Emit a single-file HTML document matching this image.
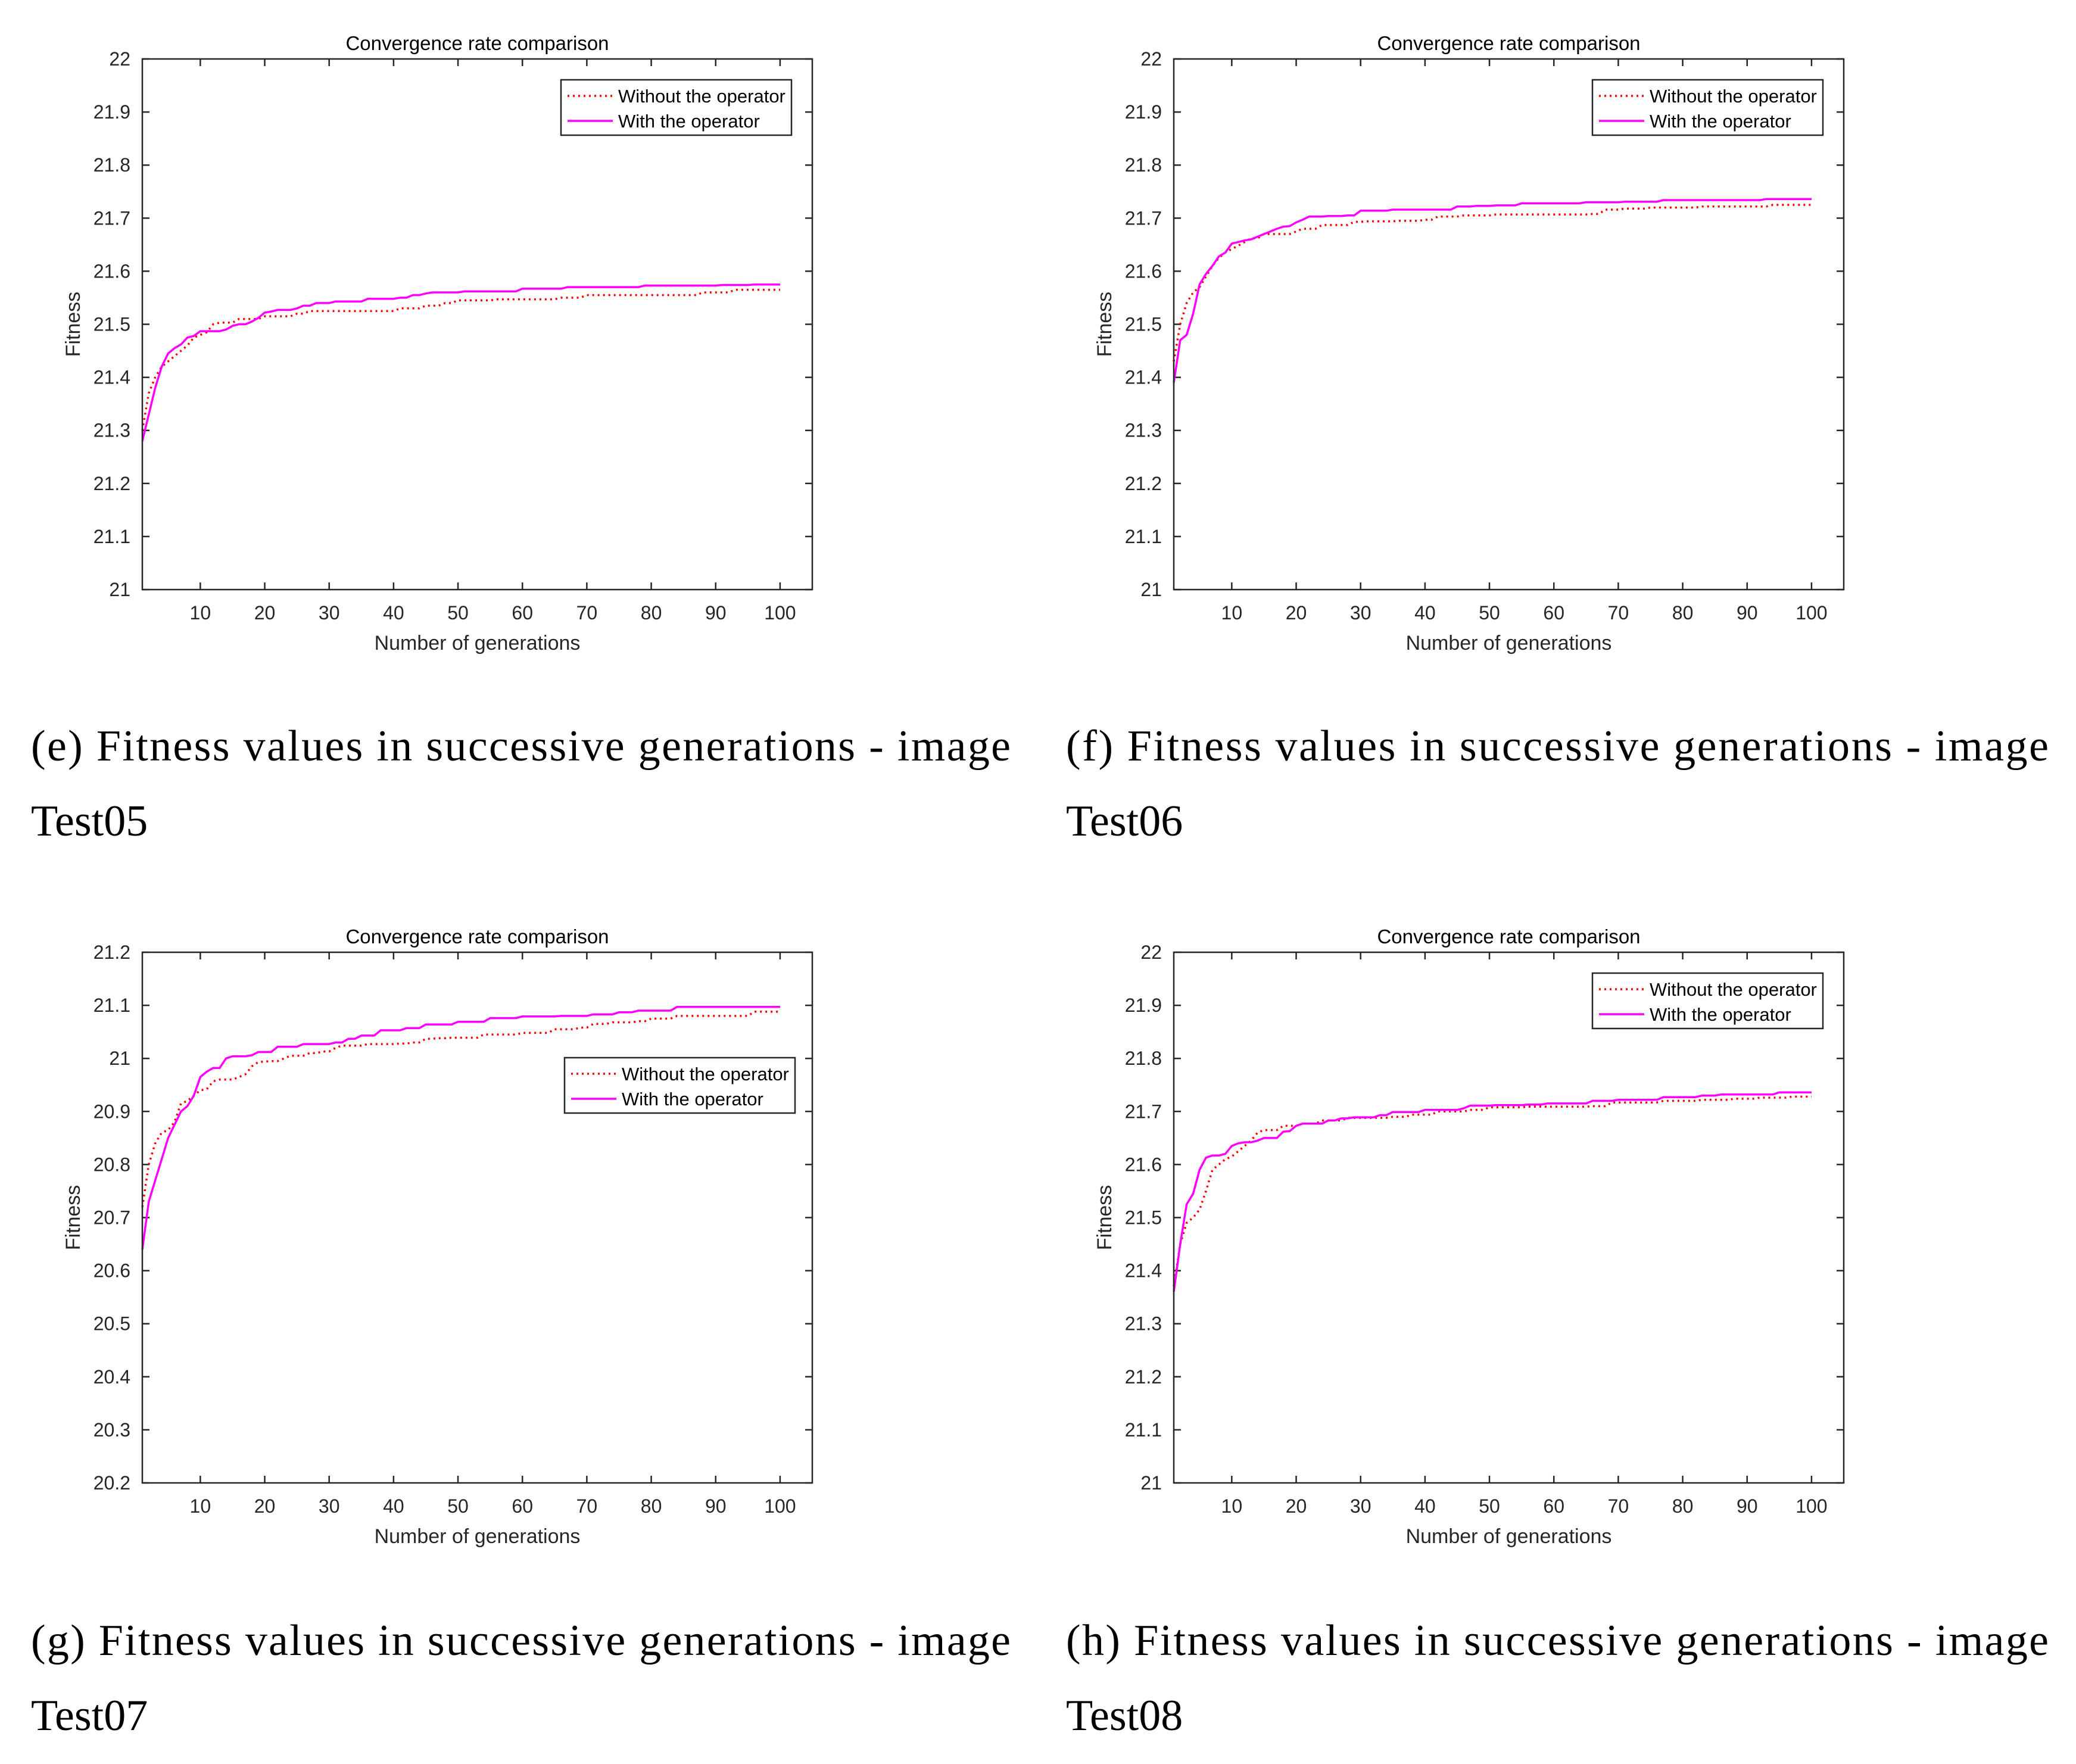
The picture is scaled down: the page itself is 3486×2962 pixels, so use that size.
<!DOCTYPE html>
<html><head><meta charset="utf-8"><style>
html,body{margin:0;padding:0;background:#fff;}
svg{display:block;}
</style></head>
<body>
<svg id="fig" width="3486" height="2962" viewBox="0 0 3486 2962" xmlns="http://www.w3.org/2000/svg"></svg>
<script>
const xTicks = [10,20,30,40,50,60,70,80,90,100];
const yTicksA = [21,21.1,21.2,21.3,21.4,21.5,21.6,21.7,21.8,21.9,22];
const yTickLabelsA = ["21","21.1","21.2","21.3","21.4","21.5","21.6","21.7","21.8","21.9","22"];
const yTicksG = [20.2,20.3,20.4,20.5,20.6,20.7,20.8,20.9,21,21.1,21.2];
const yTickLabelsG = ["20.2","20.3","20.4","20.5","20.6","20.7","20.8","20.9","21","21.1","21.2"];
const seriesNames = ["Without the operator","With the operator"];

const eWithout = [21.30,21.37,21.40,21.42,21.43,21.44,21.45,21.46,21.475,21.48,
21.485,21.50,21.503,21.503,21.503,21.51,21.51,21.51,21.51,21.515,
21.515,21.515,21.515,21.515,21.52,21.52,21.525,21.525,21.525,21.525,
21.525,21.525,21.525,21.525,21.525,21.525,21.525,21.525,21.525,21.525,
21.53,21.53,21.53,21.53,21.535,21.535,21.535,21.54,21.54,21.545,
21.545,21.545,21.545,21.545,21.545,21.547,21.547,21.547,21.547,21.547,
21.547,21.547,21.547,21.547,21.547,21.55,21.55,21.55,21.55,21.555,
21.555,21.555,21.555,21.555,21.555,21.555,21.555,21.555,21.555,21.555,
21.555,21.555,21.555,21.555,21.555,21.555,21.555,21.56,21.56,21.56,
21.56,21.56,21.565,21.565,21.565,21.565,21.565,21.565,21.565,21.565];
const eWith = [21.28,21.33,21.38,21.42,21.445,21.455,21.462,21.475,21.478,21.487,
21.487,21.487,21.487,21.49,21.497,21.50,21.50,21.505,21.512,21.522,
21.524,21.527,21.527,21.527,21.53,21.535,21.535,21.54,21.54,21.54,
21.543,21.543,21.543,21.543,21.543,21.548,21.548,21.548,21.548,21.548,
21.55,21.55,21.555,21.555,21.558,21.56,21.56,21.56,21.56,21.56,
21.562,21.562,21.562,21.562,21.562,21.562,21.562,21.562,21.562,21.567,
21.567,21.567,21.567,21.567,21.567,21.567,21.57,21.57,21.57,21.57,
21.57,21.57,21.57,21.57,21.57,21.57,21.57,21.57,21.573,21.573,
21.573,21.573,21.573,21.573,21.573,21.573,21.573,21.573,21.573,21.573,
21.574,21.574,21.574,21.574,21.574,21.575,21.575,21.575,21.575,21.575];

const fWithout = [21.43,21.50,21.54,21.56,21.57,21.59,21.61,21.625,21.635,21.642,
21.648,21.655,21.662,21.662,21.67,21.67,21.67,21.67,21.67,21.675,
21.68,21.68,21.68,21.687,21.687,21.687,21.687,21.687,21.693,21.693,
21.694,21.694,21.694,21.694,21.694,21.695,21.695,21.695,21.695,21.697,
21.697,21.703,21.703,21.703,21.703,21.705,21.705,21.705,21.705,21.705,
21.707,21.707,21.707,21.707,21.707,21.707,21.707,21.707,21.707,21.707,
21.707,21.707,21.707,21.707,21.707,21.708,21.708,21.716,21.716,21.716,
21.718,21.718,21.718,21.718,21.72,21.72,21.72,21.72,21.72,21.72,
21.72,21.72,21.722,21.722,21.722,21.722,21.722,21.722,21.722,21.722,
21.722,21.722,21.722,21.725,21.725,21.725,21.725,21.725,21.725,21.725];
const fWith = [21.39,21.47,21.48,21.52,21.575,21.595,21.61,21.628,21.635,21.652,
21.655,21.658,21.66,21.665,21.67,21.675,21.68,21.684,21.685,21.692,
21.697,21.703,21.703,21.703,21.704,21.704,21.704,21.705,21.705,21.714,
21.714,21.714,21.714,21.714,21.716,21.716,21.716,21.716,21.716,21.716,
21.716,21.716,21.716,21.716,21.722,21.722,21.722,21.723,21.723,21.723,
21.724,21.724,21.724,21.724,21.728,21.728,21.728,21.728,21.728,21.728,
21.728,21.728,21.728,21.728,21.73,21.73,21.73,21.73,21.73,21.73,
21.731,21.731,21.731,21.731,21.731,21.731,21.734,21.734,21.734,21.734,
21.734,21.734,21.734,21.734,21.734,21.734,21.734,21.734,21.734,21.734,
21.734,21.734,21.736,21.736,21.736,21.736,21.736,21.736,21.736,21.736];

const gWithout = [20.72,20.80,20.84,20.86,20.865,20.88,20.915,20.92,20.93,20.94,
20.942,20.957,20.96,20.96,20.96,20.965,20.97,20.985,20.993,20.994,
20.995,20.995,21.0,21.005,21.005,21.005,21.01,21.01,21.013,21.013,
21.02,21.024,21.024,21.024,21.024,21.027,21.027,21.027,21.027,21.027,
21.028,21.028,21.03,21.03,21.037,21.037,21.038,21.038,21.039,21.039,
21.039,21.039,21.039,21.045,21.045,21.045,21.045,21.045,21.045,21.048,
21.048,21.048,21.048,21.048,21.055,21.055,21.055,21.055,21.058,21.058,
21.065,21.065,21.065,21.068,21.068,21.068,21.068,21.07,21.07,21.075,
21.075,21.075,21.075,21.08,21.08,21.08,21.08,21.08,21.08,21.08,
21.08,21.08,21.08,21.08,21.08,21.088,21.088,21.088,21.088,21.088];
const gWith = [20.64,20.73,20.77,20.81,20.85,20.875,20.90,20.91,20.93,20.965,
20.975,20.982,20.982,21.0,21.004,21.004,21.004,21.006,21.012,21.012,
21.012,21.022,21.022,21.022,21.022,21.027,21.027,21.027,21.027,21.027,
21.03,21.03,21.037,21.037,21.043,21.043,21.043,21.053,21.053,21.053,
21.053,21.057,21.057,21.057,21.064,21.064,21.064,21.064,21.064,21.069,
21.069,21.069,21.069,21.069,21.076,21.076,21.076,21.076,21.076,21.079,
21.079,21.079,21.079,21.079,21.079,21.08,21.08,21.08,21.08,21.08,
21.083,21.083,21.083,21.083,21.087,21.087,21.087,21.09,21.09,21.09,
21.09,21.09,21.09,21.097,21.097,21.097,21.097,21.097,21.097,21.097,
21.097,21.097,21.097,21.097,21.097,21.097,21.097,21.097,21.097,21.097];

const hWithout = [21.37,21.45,21.49,21.50,21.515,21.55,21.59,21.60,21.61,21.615,
21.625,21.635,21.645,21.66,21.665,21.665,21.665,21.673,21.673,21.673,
21.677,21.677,21.677,21.683,21.683,21.683,21.683,21.688,21.688,21.688,
21.688,21.688,21.688,21.688,21.69,21.69,21.69,21.694,21.694,21.694,
21.694,21.70,21.70,21.70,21.70,21.70,21.703,21.703,21.703,21.708,
21.708,21.708,21.708,21.708,21.708,21.709,21.709,21.709,21.709,21.709,
21.709,21.709,21.709,21.709,21.709,21.71,21.71,21.71,21.717,21.717,
21.717,21.717,21.717,21.717,21.717,21.717,21.72,21.72,21.72,21.72,
21.72,21.72,21.722,21.722,21.722,21.722,21.722,21.724,21.724,21.724,
21.724,21.726,21.726,21.726,21.726,21.726,21.728,21.728,21.728,21.728];
const hWith = [21.36,21.45,21.525,21.545,21.59,21.613,21.617,21.617,21.62,21.635,
21.64,21.642,21.642,21.645,21.65,21.65,21.65,21.662,21.663,21.673,
21.677,21.677,21.677,21.677,21.683,21.683,21.687,21.687,21.689,21.689,
21.689,21.689,21.693,21.693,21.699,21.699,21.699,21.699,21.699,21.703,
21.703,21.703,21.703,21.703,21.703,21.706,21.711,21.711,21.711,21.711,
21.712,21.712,21.712,21.712,21.712,21.713,21.713,21.713,21.715,21.715,
21.715,21.715,21.715,21.715,21.715,21.72,21.72,21.72,21.72,21.722,
21.722,21.722,21.722,21.722,21.722,21.722,21.727,21.727,21.727,21.727,
21.727,21.727,21.73,21.73,21.73,21.732,21.732,21.732,21.732,21.732,
21.732,21.732,21.732,21.732,21.736,21.736,21.736,21.736,21.736,21.736];

const NS = "http://www.w3.org/2000/svg";
const svg = document.getElementById("fig");
function mk(tag, attrs, parent){
  const el = document.createElementNS(NS, tag);
  for (const k in attrs) el.setAttribute(k, attrs[k]);
  (parent||svg).appendChild(el);
  return el;
}
const W = 1125, H = 891;
const AX = "#262626";

function panel(id, px, py, yTicks, yLabels, ymin, ymax, sWithout, sWith, legDx, legDy){
  const g = mk("g", {});
  
  
  const xs = v => px + (v - 1) / (105 - 1) * W;
  const ys = v => py + H - (v - ymin) / (ymax - ymin) * H;
  const bg = mk("rect", {x:px, y:py, width:W, height:H, fill:"#fff"}, g);
  
  
  const title = mk("text", {x:px+W/2, y:py-15, "font-family":"Liberation Sans, sans-serif", "font-size":33, fill:"#000", "text-anchor":"middle"}, g);
  title.textContent = "Convergence rate comparison";
  
  
  xTicks.forEach(t => {
    const x = xs(t);
    const tk = mk("path", {d:`M${x},${py+H}v-12M${x},${py}v12`, stroke:AX, "stroke-width":2.5}, g);
    
    
    const lb = mk("text", {x:x, y:py+H+50, "font-family":"Liberation Sans, sans-serif", "font-size":32, fill:AX, "text-anchor":"middle"}, g);
    lb.textContent = String(t);
    
    
  });
  yTicks.forEach((t, i) => {
    const y = ys(t);
    const tk = mk("path", {d:`M${px},${y}h12M${px+W},${y}h-12`, stroke:AX, "stroke-width":2.5}, g);
    
    
    const lb = mk("text", {x:px-20, y:y+11, "font-family":"Liberation Sans, sans-serif", "font-size":32, fill:AX, "text-anchor":"end"}, g);
    lb.textContent = yLabels[i];
    
    
  });
  const xl = mk("text", {x:px+W/2, y:py+H+101, "font-family":"Liberation Sans, sans-serif", "font-size":34, fill:AX, "text-anchor":"middle"}, g);
  xl.textContent = "Number of generations";
  
  
  const yl = mk("text", {x:0, y:0, transform:`translate(${px-105},${py+H/2}) rotate(-90)`, "font-family":"Liberation Sans, sans-serif", "font-size":34, fill:AX, "text-anchor":"middle"}, g);
  yl.textContent = "Fitness";
  
  
  const ptsA = sWithout.map((v,i)=>`${xs(i+1).toFixed(1)},${ys(v).toFixed(1)}`).join(" ");
  const ptsB = sWith.map((v,i)=>`${xs(i+1).toFixed(1)},${ys(v).toFixed(1)}`).join(" ");
  const la = mk("polyline", {points:ptsA, fill:"none", stroke:"#ff0000", "stroke-width":3.5, "stroke-dasharray":"3 6"}, g);
  
  
  const lb2 = mk("polyline", {points:ptsB, fill:"none", stroke:"#ff00ff", "stroke-width":3.5}, g);
  
  
  const fr = mk("rect", {x:px, y:py, width:W, height:H, fill:"none", stroke:AX, "stroke-width":2.5}, g);
  
  
  const lx = px + legDx, ly = py + legDy;
  const lg = mk("g", {}, g);
  
  
  mk("rect", {x:lx, y:ly, width:387, height:93, fill:"#fff", stroke:AX, "stroke-width":2.5}, lg);
  const e1 = mk("path", {d:`M${lx+11},${ly+27}h76`, stroke:"#ff0000", "stroke-width":3.5, "stroke-dasharray":"3 6"}, lg);
  
  
  const t1 = mk("text", {x:lx+96, y:ly+38, "font-family":"Liberation Sans, sans-serif", "font-size":31, fill:"#000"}, lg);
  t1.textContent = seriesNames[0];
  
  
  const e2 = mk("path", {d:`M${lx+11},${ly+69}h76`, stroke:"#ff00ff", "stroke-width":3.5}, lg);
  
  
  const t2 = mk("text", {x:lx+96, y:ly+80, "font-family":"Liberation Sans, sans-serif", "font-size":31, fill:"#000"}, lg);
  t2.textContent = seriesNames[1];
  
  
}

panel("e", 239, 99, yTicksA, yTickLabelsA, 21, 22, eWithout, eWith, 703, 35);
panel("f", 1971, 99, yTicksA, yTickLabelsA, 21, 22, fWithout, fWith, 703, 35);
panel("g", 239, 1599, yTicksG, yTickLabelsG, 20.2, 21.2, gWithout, gWith, 709, 177);
panel("h", 1971, 1599, yTicksA, yTickLabelsA, 21, 22, hWithout, hWith, 703, 35);

function caption(x, y, line1, line2, len, name){
  const c = mk("text", {x:x, y:y, "font-family":"Liberation Serif, serif", "font-size":74, fill:"#000", textLength:len, lengthAdjust:"spacing"});
  c.textContent = line1;
  
  
  const c2 = mk("text", {x:x, y:y+126, "font-family":"Liberation Serif, serif", "font-size":74, fill:"#000"});
  c2.textContent = line2;
  
  
}
caption(52, 1277, "(e) Fitness values in successive generations - image", "Test05", 1645, "caption-e");
caption(1790, 1277, "(f) Fitness values in successive generations - image", "Test06", 1650, "caption-f");
caption(52, 2779, "(g) Fitness values in successive generations - image", "Test07", 1645, "caption-g");
caption(1790, 2779, "(h) Fitness values in successive generations - image", "Test08", 1650, "caption-h");
</script>
</body></html>
